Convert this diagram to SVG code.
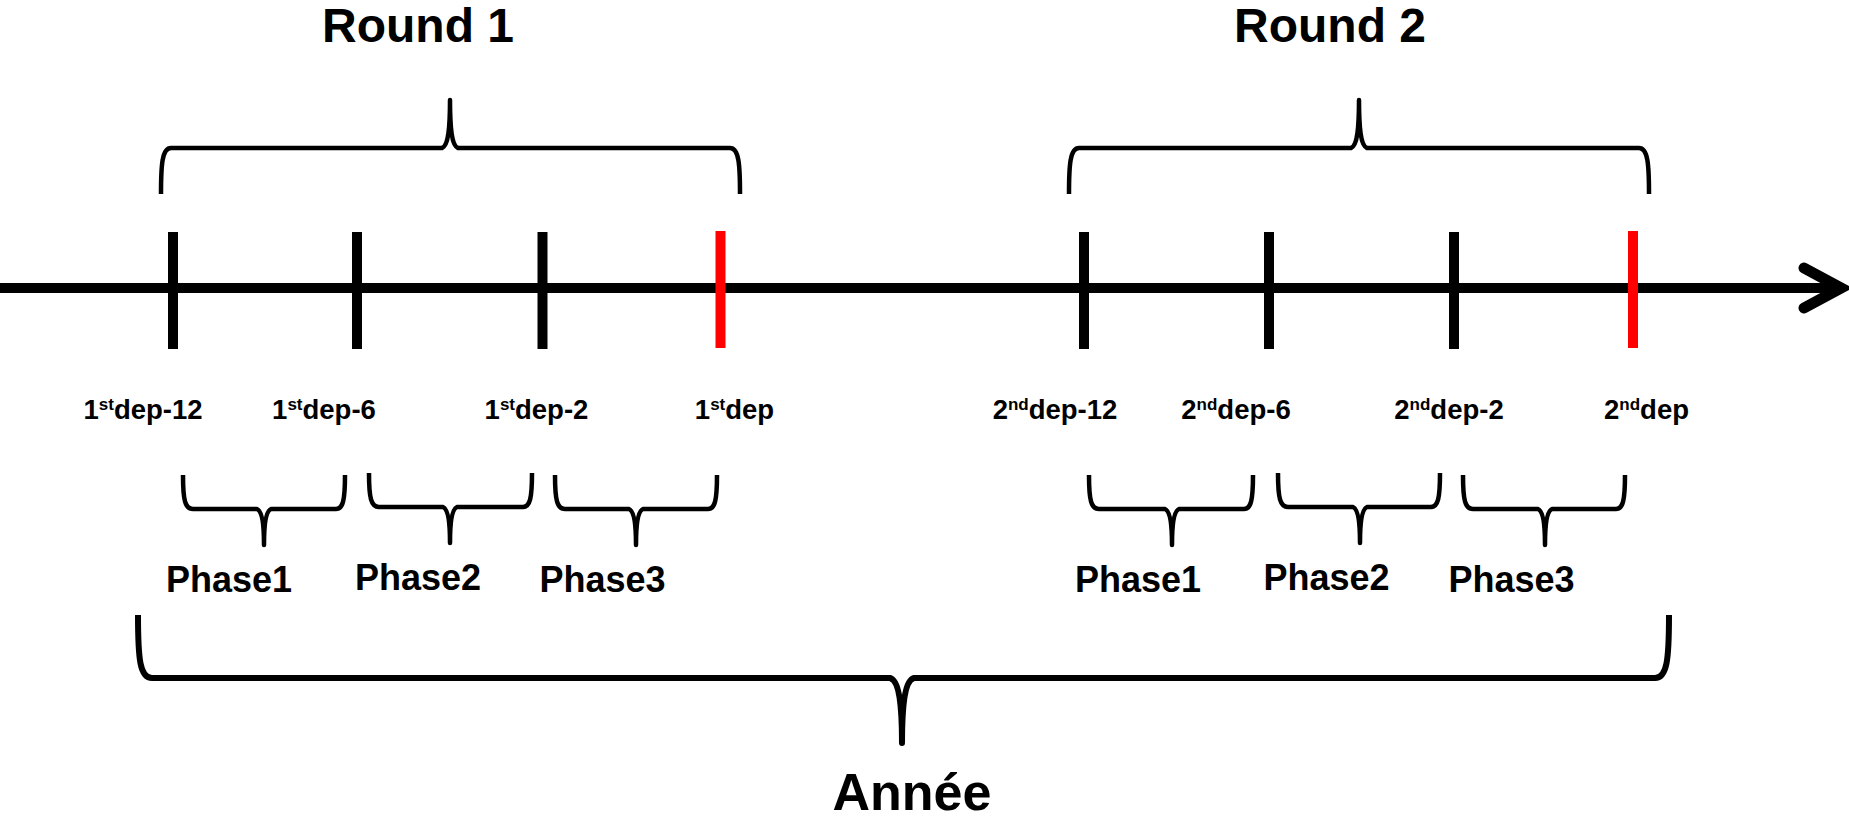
<svg xmlns="http://www.w3.org/2000/svg" width="1849" height="818" viewBox="0 0 1849 818">
<style>
  text { font-family: "Liberation Sans", Arial, sans-serif; font-weight: bold; fill: #000; text-anchor: middle; }
  .title { font-size: 48px; }
  .dep { font-size: 27.5px; }
  .sup { font-size: 17px; }
  .phase { font-size: 36px; }
  .year { font-size: 52px; }
  .tick { stroke: #000; stroke-width: 10; }
  .tick-red { stroke: #FF0000; stroke-width: 10; }
  .brace { fill: none; stroke: #000; stroke-width: 4.5; stroke-linejoin: round; stroke-linecap: butt; }
  .brace-big { fill: none; stroke: #000; stroke-width: 6; stroke-linejoin: round; }
  .axis { fill: none; stroke: #000; stroke-width: 10; }
  .head { fill: none; stroke: #000; stroke-width: 11; stroke-linecap: round; stroke-linejoin: miter; stroke-miterlimit: 10; }
</style>
<rect width="1849" height="818" fill="#fff"/>

<g id="connectors">
  <line class="axis" x1="0" y1="288" x2="1838" y2="288"/>
  <polyline class="head" points="1804,268 1841,288 1804,308"/>
</g>

<g id="round1">
  <text class="title" x="418" y="42">Round 1</text>
  <path class="brace" d="M161 194 C161 165 162 148 171 148 L442 148 C448 146 450 130 450 100 C450 130 452 146 458 148 L730 148 C739 148 740 165 740 194"/>
  <line class="tick" x1="173" y1="232" x2="173" y2="349"/>
  <line class="tick" x1="357" y1="232" x2="357" y2="349"/>
  <line class="tick" x1="542.5" y1="232" x2="542.5" y2="349"/>
  <line class="tick-red" x1="720.5" y1="231" x2="720.5" y2="348"/>
  <text class="dep" x="143" y="419">1<tspan class="sup" dy="-9">st</tspan><tspan dy="9">dep-12</tspan></text>
  <text class="dep" x="324" y="419">1<tspan class="sup" dy="-9">st</tspan><tspan dy="9">dep-6</tspan></text>
  <text class="dep" x="536.5" y="419">1<tspan class="sup" dy="-9">st</tspan><tspan dy="9">dep-2</tspan></text>
  <text class="dep" x="734.5" y="419">1<tspan class="sup" dy="-9">st</tspan><tspan dy="9">dep</tspan></text>
  <path class="brace" d="M183 475 C183 500 185 509 193 509 L257 509 C262 511 264 525 264 545 C264 525 266 511 271 509 L336 509 C343 509 345 500 345 475"/>
  <path class="brace" d="M369 473 C369 498 371 507 379 507 L443 507 C448 509 450 523 450 543 C450 523 452 509 457 507 L523 507 C530 507 532 498 532 473"/>
  <path class="brace" d="M555 475 C555 500 557 509 565 509 L629 509 C634 511 636 525 636 545 C636 525 638 511 643 509 L708 509 C715 509 717 500 717 475"/>
  <text class="phase" x="229" y="592">Phase1</text>
  <text class="phase" x="418" y="590">Phase2</text>
  <text class="phase" x="602.5" y="592">Phase3</text>
</g>

<g id="round2">
  <text class="title" x="1330" y="42">Round 2</text>
  <path class="brace" d="M1069 194 C1069 165 1070 148 1079 148 L1351 148 C1357 146 1359 130 1359 100 C1359 130 1361 146 1367 148 L1639 148 C1648 148 1649 165 1649 194"/>
  <line class="tick" x1="1084" y1="232" x2="1084" y2="349"/>
  <line class="tick" x1="1269" y1="232" x2="1269" y2="349"/>
  <line class="tick" x1="1454" y1="232" x2="1454" y2="349"/>
  <line class="tick-red" x1="1633" y1="231" x2="1633" y2="348"/>
  <text class="dep" x="1055" y="419">2<tspan class="sup" dy="-9">nd</tspan><tspan dy="9">dep-12</tspan></text>
  <text class="dep" x="1236" y="419">2<tspan class="sup" dy="-9">nd</tspan><tspan dy="9">dep-6</tspan></text>
  <text class="dep" x="1449" y="419">2<tspan class="sup" dy="-9">nd</tspan><tspan dy="9">dep-2</tspan></text>
  <text class="dep" x="1646.5" y="419">2<tspan class="sup" dy="-9">nd</tspan><tspan dy="9">dep</tspan></text>
  <path class="brace" d="M1089 475 C1089 500 1091 509 1099 509 L1165 509 C1170 511 1172 525 1172 545 C1172 525 1174 511 1179 509 L1244 509 C1251 509 1253 500 1253 475"/>
  <path class="brace" d="M1278 473 C1278 498 1280 507 1288 507 L1353 507 C1358 509 1360 523 1360 543 C1360 523 1362 509 1367 507 L1431 507 C1438 507 1440 498 1440 473"/>
  <path class="brace" d="M1463 475 C1463 500 1465 509 1473 509 L1538 509 C1543 511 1545 525 1545 545 C1545 525 1547 511 1552 509 L1616 509 C1623 509 1625 500 1625 475"/>
  <text class="phase" x="1138" y="592">Phase1</text>
  <text class="phase" x="1326.5" y="590">Phase2</text>
  <text class="phase" x="1511.5" y="592">Phase3</text>
</g>

<g id="year">
  <path class="brace-big" d="M138 615 C138 660 140 678 152 678 L890 678 C898 680 902 700 902 743 C902 700 906 680 914 678 L1655 678 C1667 678 1669 660 1669 615"/>
  <text class="year" x="912" y="810">Année</text>
</g>
</svg>
